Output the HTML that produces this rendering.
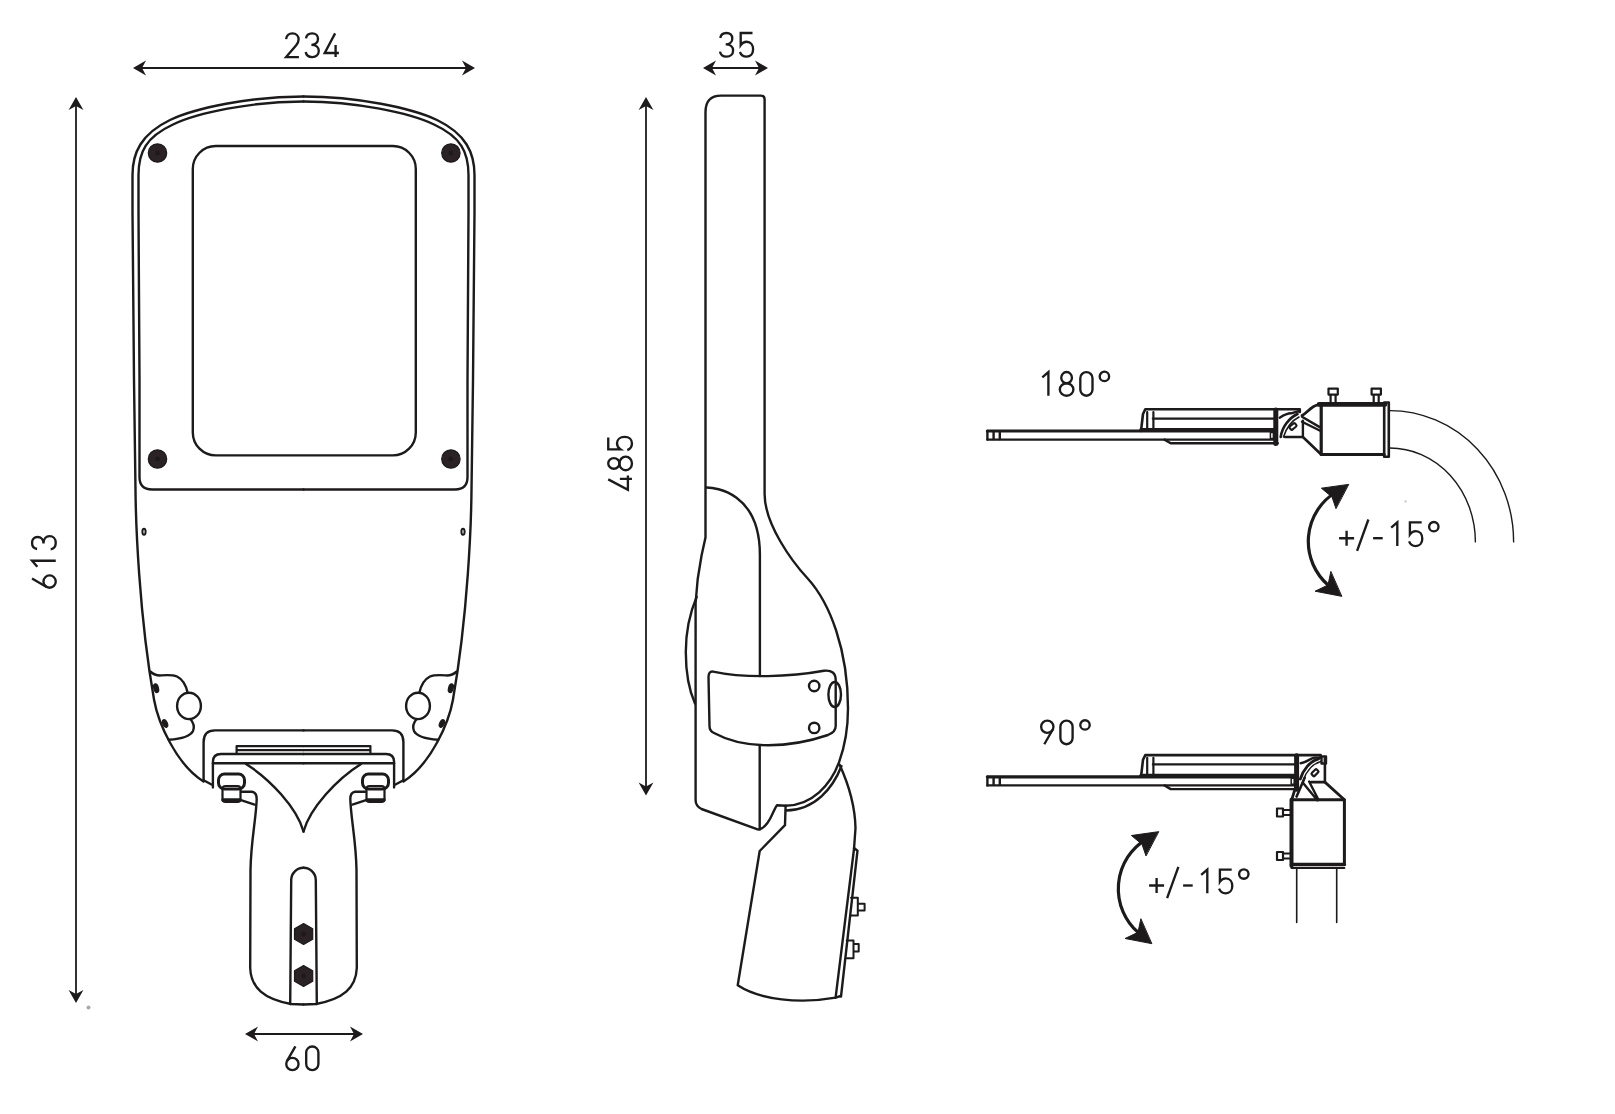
<!DOCTYPE html>
<html><head><meta charset="utf-8">
<style>
html,body{margin:0;padding:0;background:#fff;}
svg{display:block;}
text{font-family:"Liberation Sans",sans-serif;fill:#1c1a1b;}
</style></head>
<body>
<svg width="1615" height="1114" viewBox="0 0 1615 1114">
<defs>
  <path id="ah" d="M0,0 L-13,-7.4 L-9,0 L-13,7.4 Z" fill="#1c1a1b"/>
</defs>
<g fill="none" stroke="#1c1a1b" stroke-width="2.4" stroke-linejoin="round" stroke-linecap="round">


<!-- ============ FRONT VIEW ============ -->
<g id="fronthalf">
  <!-- outer contour -->
  <path d="M303.5,96.5 C250,96.5 195,108 170,120 C141,134 132.5,153 132.5,175 L132.5,212 L134,380 L135.5,490 C135.8,522.1 138.9,613.7 154.1,700 C157.9,721.3 175.3,763.6 203.5,781.5"/>
  <!-- inner contour -->
  <path d="M303.5,101.5 C251,101.5 197,113 173,124.5 C146,137 138.5,152 138.5,175 L138.5,212 L139.5,380 L139.5,477 Q139.5,489.5 152,489.5 L303.5,489.5"/>
  <!-- small slot -->
  <ellipse cx="144" cy="531.7" rx="1.6" ry="3" stroke-width="2"/>
  <!-- ear -->
  <path d="M150.2,671.5 C153,674 156,675.5 160,675.5 C167,675 172,674.5 177,676.5 C182,679 186,685 187.6,692.8"/>
  <ellipse cx="189" cy="705.9" rx="11.9" ry="13.2"/>
  <path d="M190.3,719 C193,722 195,726 193,731 C190,737 180,739 168.9,739.8"/>
  <ellipse cx="156" cy="688.3" rx="2.3" ry="4.4" fill="#1c1a1b" stroke-width="1.2" transform="rotate(-15 155.7 687.7)"/>
  <ellipse cx="165.1" cy="723.5" rx="2.2" ry="4" fill="#1c1a1b" stroke-width="1.2" transform="rotate(-25 165.1 723.5)"/>
  <!-- bracket outer -->
  <path d="M203.6,780.2 L203.6,742 Q203.6,730.4 215,730.4 L303.5,730.4"/>
  <path d="M203.6,780.2 L211.5,784.5"/>
  <!-- bars -->
  <path d="M236.6,746.1 L303.5,746.1 M236.6,750.2 L303.5,750.2 M236.6,746.1 L236.6,754" stroke-width="2.2"/>
  <!-- inner bracket -->
  <path d="M212.9,787.4 L212.9,762 Q212.9,754 221,754 L303.5,754"/>
  <path d="M213,763.3 L303.5,763.3"/>
  <!-- V -->
  <path d="M246,764 C270,779 297,808 303.5,831.5"/>
  <!-- nut -->
  <rect x="218.5" y="774" width="26" height="15" rx="6" stroke-width="3"/>
  <rect x="222.5" y="786" width="18" height="16" rx="3" stroke-width="2.2"/>
  <path d="M223,800 L240,800" stroke-width="3.5"/>
  <!-- arm -->
  <path d="M241.7,791.7 L252,791.7 Q256.7,792.5 256.7,799 C256,820 251,840 250.5,870 L250.2,968 C251,988 264,999 291,1004 L303.5,1004.5"/>
  <path d="M241.7,800.3 L254.6,804.6"/>
  <!-- slot -->
  <path d="M290.2,1004 L291.2,880 A12.4,12.4 0 0 1 303.5,867.8"/>
</g>
<use href="#fronthalf" transform="translate(607,0) scale(-1,1)"/>
<!-- window + bolts (center 304.2) -->
<rect x="192.8" y="146" width="223" height="309.4" rx="23" ry="23" fill="none" stroke="#1c1a1b" stroke-width="2.4"/>
<g fill="#2a2224" stroke="#1c1a1b" stroke-width="1.2">
  <circle cx="157.5" cy="153" r="9.2"/><circle cx="157.5" cy="459" r="9.2"/>
  <circle cx="450.9" cy="153" r="9.2"/><circle cx="450.9" cy="459" r="9.2"/>
</g>
<g fill="#fff">
  <circle cx="157.5" cy="153" r="1.2"/><circle cx="157.5" cy="459" r="1.2"/>
  <circle cx="450.9" cy="153" r="1.2"/><circle cx="450.9" cy="459" r="1.2"/>
</g>
<!-- bottom nuts -->
<g fill="#2a2224" stroke="#1c1a1b" stroke-width="1.2">
  <path d="M303.6,923.5 L312.7,928.75 L312.7,939.25 L303.6,944.5 L294.5,939.25 L294.5,928.75 Z"/>
  <path d="M303.6,965.5 L312.7,970.75 L312.7,981.25 L303.6,986.5 L294.5,981.25 L294.5,970.75 Z"/>
</g>
<circle cx="303.6" cy="934" r="1.2" fill="#fff"/>
<circle cx="303.6" cy="976" r="1.2" fill="#fff"/>


<!-- ============ SIDE VIEW ============ -->
<g id="side">
  <!-- upper body + right contour -->
  <path d="M705.5,537.5 L705.5,112 Q705.5,95.6 721,95.6 L760.6,95.6 Q764.6,95.6 764.6,99.6 L764.6,494 C764.6,524.2 792.0,561.6 807.7,578.5 C830,603 848,650 848,708.5 C848,732 843.5,750 839,762.4 C830.7,784.7 812.2,805.5 785.6,805.7 L777,805.2 C772,812 771,823 761.9,828.3 Q759.5,829.8 757.6,829.4 L701.5,809 Q695.6,806 695.6,800.3 L695.6,603 L697.7,579 L701.6,555.3 L705.5,537.5"/>
  <!-- joint lower line -->
  <path d="M841.5,766 C833,788 815,810 786,810.5"/>
  <!-- lens bulge -->
  <path d="M696.7,596.8 C689,615 685.8,635 685.8,652 C685.8,672 689,690 695,703.6"/>
  <!-- inner curve -->
  <path d="M706.5,487.5 C715.3,487.5 759.9,492.3 759.9,555 L759.9,676"/>
  <path d="M759.7,746.5 L759.7,829.4"/>
  <!-- plate -->
  <path d="M713,671.6 C745,678.5 790,677 824,670.8 Q835.7,669.5 835.7,680 L835.7,726 Q835.7,732 828,735 C790,748 745,750 714,733 Q709.5,731 709.5,726 L708.5,677 Q708.5,671 713,671.6 Z"/>
  <circle cx="814.2" cy="686" r="5.2"/>
  <circle cx="814.2" cy="727.9" r="5.2"/>
  <ellipse cx="834.7" cy="694.5" rx="6.3" ry="12.5"/>
  <!-- arm -->
  <path d="M785.6,805.7 L785,825.1 L759.7,851 L737.7,985.3 C760,1000 800,1004 835.6,997.6 L840.7,996"/>
  <path d="M839.5,764.5 C848,783 855,805 855.5,828 L854,849 L835.6,997.6"/>
  <path d="M854,848 L857.5,850.7 L841,996.5"/>
  <!-- bolts -->
  <path d="M851,897.7 L857.8,897.7 L857.8,915.6 L851,915.6 M857.8,903.7 L864.6,903.7 L864.6,910.5 L857.8,910.5" stroke-width="2"/>
  <path d="M846.7,940.4 L853.5,940.4 L853.5,958.3 L846.7,958.3 M853.5,944 L858.7,944 L858.7,951.5 L853.5,951.5" stroke-width="2"/>
</g>


<!-- ============ 180 / 90 VIEWS ============ -->
<g transform="translate(0,0)">
  <path d="M987.4,431 L1275.8,431" stroke-width="3.2"/>
  <path d="M987.4,439.6 L1275.8,439.6" stroke-width="2.4"/>
  <path d="M987.4,431 L987.4,439.6 M993.6,432 L993.6,439 M999.8,432 L999.8,439" stroke-width="2.4"/>
  <path d="M1141,431 L1143,414 L1145.3,409.3 L1299.8,409.3 L1299.8,412" stroke-width="2.6"/>
  <path d="M1147.2,412 L1147.2,430 M1153.4,412 L1153.4,430" stroke-width="2.2"/>
  <path d="M1153,418.6 L1275.8,418.6" stroke-width="2.4"/>
  <path d="M1141,429.7 L1275.8,429.7" stroke-width="3.4"/>
  <path d="M1164.5,439.6 L1170.7,443.3 L1277.8,443.3" stroke-width="2.4"/>
  <path d="M1275.8,410 L1275.8,443.5" stroke-width="5"/>
  <rect x="1270.3999999999999" y="432.5" width="3" height="6" stroke-width="1.5"/>
</g>
<g transform="translate(0,345.8)">
  <path d="M987.4,431 L1296.6,431" stroke-width="3.2"/>
  <path d="M987.4,439.6 L1296.6,439.6" stroke-width="2.4"/>
  <path d="M987.4,431 L987.4,439.6 M993.6,432 L993.6,439 M999.8,432 L999.8,439" stroke-width="2.4"/>
  <path d="M1141,431 L1143,414 L1145.3,409.3 L1320.6,409.3 L1320.6,412" stroke-width="2.6"/>
  <path d="M1147.2,412 L1147.2,430 M1153.4,412 L1153.4,430" stroke-width="2.2"/>
  <path d="M1153,418.6 L1296.6,418.6" stroke-width="2.4"/>
  <path d="M1141,429.7 L1296.6,429.7" stroke-width="3.4"/>
  <path d="M1164.5,439.6 L1170.7,443.3 L1298.6,443.3" stroke-width="2.4"/>
  <path d="M1296.6,410 L1296.6,443.5" stroke-width="5"/>
  <rect x="1291.1999999999998" y="432.5" width="3" height="6" stroke-width="1.5"/>
</g>
<!-- 180 hinge + cylinder -->
<g id="hinge180">
  <path d="M1279.7,417.7 C1284,415 1289,413.3 1291,413.3 L1299.5,411" stroke-width="2.4"/>
  <path d="M1280.7,437 C1282,427 1289,418 1297.5,414" stroke-width="2.6"/>
  <path d="M1283.5,437 C1286,429 1291,421 1299,417" stroke-width="1.6"/>
  <rect x="1289.5" y="424.5" width="7" height="4" rx="1" transform="rotate(-40 1293 426.5)" stroke-width="2"/>
  <path d="M1285,437 L1302.9,437 L1302.9,420.7" stroke-width="2.4"/>
  <path d="M1302,415.5 C1307,413 1311,406 1318,404.8 L1322,404.8" stroke-width="2.8"/>
  <path d="M1302,416.7 L1319.7,427.1 M1302,421.7 L1319.7,430.5" stroke-width="2.4"/>
  <path d="M1302.9,437 L1321.2,454.5" stroke-width="2.6"/>
  <!-- cylinder -->
  <path d="M1319,404.4 L1385,404.4" stroke-width="4.6"/>
  <path d="M1321.2,405 L1321.2,454.5 L1384.2,454.5" stroke-width="3.2"/>
  <rect x="1384.2" y="402.5" width="4.6" height="54.3" stroke-width="2.6"/>
  <!-- top bolts -->
  <path d="M1328.5,388.6 h9.3 v6 h-9.3 z M1330.6,394.6 v9 M1335.6,394.6 v9" stroke-width="2.2"/>
  <path d="M1371.6,388.6 h9.3 v6 h-9.3 z M1373.7,394.6 v9 M1378.7,394.6 v9" stroke-width="2.2"/>
  <!-- pole arcs -->
  <path d="M1389.9,410.6 A124,131 0 0 1 1513.6,541.9" stroke-width="1.4"/>
  <path d="M1389.9,448 A85.5,94 0 0 1 1475.4,541.9" stroke-width="1.4"/>
</g>
<!-- 90 hinge + vertical cylinder -->
<g id="hinge90">
  <path d="M1300.6,763.3 C1306,763 1310,758 1315,757.6 L1321.1,757.6" stroke-width="2.4"/>
  <path d="M1300.3,779 C1303,770 1310,761 1318.6,758.9" stroke-width="2.8"/>
  <path d="M1303.5,780 C1306,772 1312,764 1321,761.5" stroke-width="1.6"/>
  <rect x="1311.5" y="770.7" width="7" height="4" rx="1" transform="rotate(-45 1315 772.7)" stroke-width="2.2"/>
  <rect x="1321.5" y="756.5" width="4.5" height="7" stroke-width="2.4"/>
  <path d="M1324.9,758.2 L1324.9,782.1 L1311,782.1" stroke-width="2.6"/>
  <path d="M1296.6,784 L1291.5,800.3 M1324.9,782.1 L1344.4,799.7" stroke-width="2.8"/>
  <path d="M1304.7,777.7 L1296.6,796.6" stroke-width="2.6"/>
  <path d="M1302.9,782.7 L1317.3,800.3 M1309.1,781.5 L1318.6,800" stroke-width="2.4"/>
  <!-- cylinder -->
  <path d="M1291.5,799.7 L1344.4,799.7 L1344.4,864.5" stroke-width="3"/>
  <path d="M1291.5,799.7 L1291.5,866" stroke-width="4"/>
  <path d="M1291.5,864.5 L1344.4,864.5" stroke-width="3.4"/>
  <path d="M1291.5,868 L1344.4,868" stroke-width="2"/>
  <!-- side bolts -->
  <path d="M1277,808.5 h6 v8 h-6 z M1283,810 h7.5 M1283,815 h7.5" stroke-width="2.2"/>
  <path d="M1277,852 h6 v8 h-6 z M1283,853.5 h7.5 M1283,858.5 h7.5" stroke-width="2.2"/>
  <!-- pole -->
  <path d="M1296.7,869 L1296.7,922.5 M1336.7,869 L1336.7,922.5" stroke-width="1.6"/>
</g>
<!-- curved arrows -->
<g id="carrow">
  <path d="M1336,492 A58,58 0 0 0 1328,585" stroke-width="3.2"/>
  <path d="M1348.4,484.4 L1321.4,488.2 L1332,497 L1335.9,508.3 Z" fill="#1c1a1b" stroke-width="1"/>
  <path d="M1341.5,596.3 L1315.1,591.2 L1328,585 L1330.8,571.8 Z" fill="#1c1a1b" stroke-width="1"/>
</g>
<use href="#carrow" transform="translate(-190,347.3)"/>

<!-- ============ DIMENSIONS ============ -->
<!-- 234 -->
<line x1="136" y1="68" x2="472" y2="68" stroke-width="1.8"/>
<use href="#ah" transform="translate(133,68) rotate(180)" stroke="none"/>
<use href="#ah" transform="translate(475,68)" stroke="none"/>
<!-- 613 -->
<line x1="76" y1="100" x2="76" y2="1000" stroke-width="1.8"/>
<use href="#ah" transform="translate(76,97) rotate(-90)" stroke="none"/>
<use href="#ah" transform="translate(76,1003) rotate(90)" stroke="none"/>
<!-- 60 -->
<line x1="248" y1="1034" x2="360" y2="1034" stroke-width="1.8"/>
<use href="#ah" transform="translate(245,1034) rotate(180)" stroke="none"/>
<use href="#ah" transform="translate(363,1034)" stroke="none"/>
<!-- 35 -->
<line x1="706" y1="68" x2="765" y2="68" stroke-width="1.8"/>
<use href="#ah" transform="translate(703,68) rotate(180)" stroke="none"/>
<use href="#ah" transform="translate(768,68)" stroke="none"/>
<!-- 485 -->
<line x1="646" y1="100" x2="646" y2="792" stroke-width="1.8"/>
<use href="#ah" transform="translate(646,97) rotate(-90)" stroke="none"/>
<use href="#ah" transform="translate(646,795.5) rotate(90)" stroke="none"/>
</g>

<circle cx="88.5" cy="1007.4" r="2" fill="#aaa"/>
<circle cx="1405.6" cy="501.4" r="1.2" fill="#ccc"/>
<!-- TEXT -->
<defs>
<g id="g0"><path d="M-6.1,7.3 A6.1,6.1 0 0 1 6.1,7.3 L6.1,18.7 A6.1,6.1 0 0 1 -6.1,18.7 Z"/></g>
<g id="g1"><path d="M-4.8,6.4 L1.3,1.15 L1.3,24.85"/></g>
<g id="g2"><path d="M-6.3,7 C-6,3.5 -3.3,1.15 0,1.15 C3.6,1.15 6.2,3.6 6.2,7.3 C6.2,9.6 5.2,11.3 3.8,13 L-6.3,24.85 L6.5,24.85"/></g>
<g id="g3"><path d="M-6.2,6.2 C-5.8,3 -3.2,1.15 0,1.15 C3.4,1.15 5.8,3.4 5.8,6.6 C5.8,10.2 3.3,12.6 -0.8,12.6 C4,12.6 6.6,15.3 6.6,18.6 C6.6,22.4 3.8,24.85 0,24.85 C-3.5,24.85 -6,22.8 -6.5,19.8"/></g>
<g id="g4"><path d="M3.6,1.15 L-6.8,20.8 L7.4,20.8 M4.1,12.8 L4.1,24.85"/></g>
<g id="g5"><path d="M6,1.15 L-5.8,1.15 L-5.8,13.2 C-4.3,10.9 -2.2,9.9 0.2,9.9 C4.2,9.9 6.6,13.3 6.6,17.5 C6.6,21.9 3.9,24.85 0,24.85 C-3.1,24.85 -5.6,22.9 -6.6,20.2"/></g>
<g id="g6"><path d="M3,1.15 L-5.33,15.63"/><circle cx="0" cy="18.7" r="6.15"/></g>
<g id="g8"><ellipse cx="0" cy="6.75" rx="5.35" ry="5.6"/><ellipse cx="0" cy="18.6" rx="6.8" ry="6.25"/></g>
<g id="g9"><path d="M-3,24.85 L5.33,10.37"/><circle cx="0" cy="7.3" r="6.15"/></g>
<g id="gdeg"><circle cx="0" cy="5.5" r="4.7"/></g>
<g id="gplus"><path d="M-7.5,17 L7.5,17 M0,9.5 L0,24.5"/></g>
<g id="gslash"><path d="M5.65,-1.7 L-5.65,29.6"/></g>
<g id="gminus"><path d="M-4.8,17 L4.8,17"/></g>
</defs>
<g transform="translate(0,32.2)" fill="none" stroke="#1c1a1b" stroke-width="2.35" stroke-linecap="butt"><use href="#g2" x="292.4"/><use href="#g3" x="312.2"/><use href="#g4" x="331.5"/></g>
<g transform="translate(0,1045.3)" fill="none" stroke="#1c1a1b" stroke-width="2.35" stroke-linecap="butt"><use href="#g6" x="292.4"/><use href="#g0" x="312.3"/></g>
<g transform="translate(0,31.8)" fill="none" stroke="#1c1a1b" stroke-width="2.35" stroke-linecap="butt"><use href="#g3" x="726.5"/><use href="#g5" x="746.5"/></g>
<g transform="translate(30.9,581.6) rotate(-90)" fill="none" stroke="#1c1a1b" stroke-width="2.35" stroke-linecap="butt"><use href="#g6" x="0"/><use href="#g1" x="19.6"/><use href="#g3" x="38.8"/></g>
<g transform="translate(607.1,483) rotate(-90)" fill="none" stroke="#1c1a1b" stroke-width="2.35" stroke-linecap="butt"><use href="#g4" x="0"/><use href="#g8" x="19.6"/><use href="#g5" x="39.5"/></g>
<g transform="translate(0,370.9)" fill="none" stroke="#1c1a1b" stroke-width="2.35" stroke-linecap="butt"><use href="#g1" x="1047.1"/><use href="#g8" x="1066.6"/><use href="#g0" x="1086.4"/><use href="#gdeg" x="1104.4"/></g>
<g transform="translate(0,719.4)" fill="none" stroke="#1c1a1b" stroke-width="2.35" stroke-linecap="butt"><use href="#g9" x="1047.3"/><use href="#g0" x="1066.5"/><use href="#gdeg" x="1085"/></g>
<g transform="translate(0,521.2)" fill="none" stroke="#1c1a1b" stroke-width="2.35" stroke-linecap="butt"><use href="#gplus" x="1346.6"/><use href="#gslash" x="1362.75"/><use href="#gminus" x="1377.9"/><use href="#g1" x="1396"/><use href="#g5" x="1415.7"/><use href="#gdeg" x="1433.8"/></g>
<g transform="translate(-190,868.5)" fill="none" stroke="#1c1a1b" stroke-width="2.35" stroke-linecap="butt"><use href="#gplus" x="1346.6"/><use href="#gslash" x="1362.75"/><use href="#gminus" x="1377.9"/><use href="#g1" x="1396"/><use href="#g5" x="1415.7"/><use href="#gdeg" x="1433.8"/></g>
</svg>
</body></html>
